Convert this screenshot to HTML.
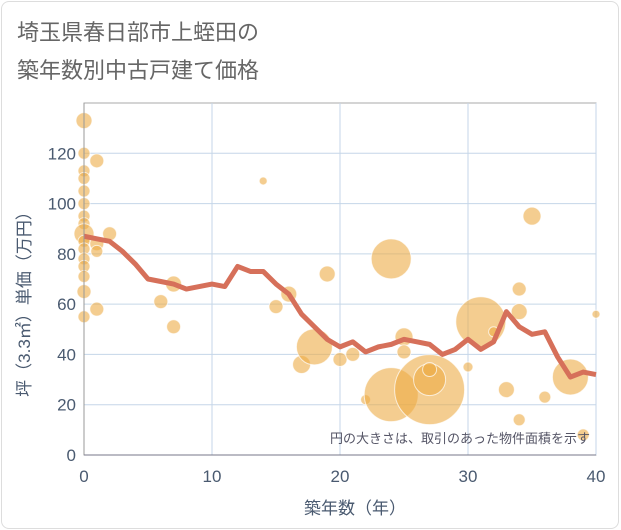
<!DOCTYPE html>
<html><head><meta charset="utf-8"><style>
body{margin:0;background:#fff;font-family:"Liberation Sans","Noto Sans CJK JP",sans-serif;}
#card{position:absolute;left:1px;top:1px;width:616px;height:526px;border:1px solid #ddd;border-radius:8px;}
</style></head><body>
<div id="card"></div>
<svg id="chart" width="621" height="530" style="position:absolute;left:0;top:0">
<text x="17" y="40" font-size="22" fill="#666">埼玉県春日部市上蛭田の</text>
<text x="17" y="78" font-size="22" fill="#666">築年数別中古戸建て価格</text>
<g id="grid"></g><g id="bubbles"></g><g id="line"></g><g id="axes"></g>
<text x="590" y="443" font-size="13" fill="#556" text-anchor="end">円の大きさは、取引のあった物件面積を示す</text>
<text x="355" y="514" font-size="17" fill="#4a5a70" text-anchor="middle">築年数（年）</text>
<text transform="translate(30,300) rotate(-90)" font-size="17" fill="#4a5a70" text-anchor="middle">坪（3.3㎡）単価（万円）</text>
</svg>
<script>
const xTicks=[0,10,20,30,40];
const yTicks=[0,20,40,60,80,100,120];
const lineYears=[0,1,2,3,4,5,6,7,8,9,10,11,12,13,14,15,16,17,18,19,20,21,22,23,24,25,26,27,28,29,30,31,32,33,34,35,36,37,38,39,40];
const linePrices=[87,86,85,81,76,70,69,68,66,67,68,67,75,73,73,68,64,56,51,46,43,45,41,43,44,46,45,44,40,42,46,42,45,57,51,48,49,39,31,33,32];
const bubbleYears=[0,0,1,0,0,0,0,0,0,0,0,0,0,0,0,0,0,1,1,2,1,6,7,7,14,15,16,17,18,19,20,21,22,24,24,25,25,27,27,27,30,31,32,33,34,34,34,35,36,38,39,40];
const bubblePrices=[133,120,117,113,110,105,100,95,92,88,85,82,78,75,71,65,55,84,81,88,58,61,68,51,109,59,64,36,43,72,38,40,22,78,24,47,41,26,30,34,35,53,49,26,66,57,14,95,23,31,8,56];
const bubbleSizes=[8,6,7,6,6,6,6,6,6,10,6,6,6,6,6,7,6,7,6,7,7,7,8,7,4,7,8,9,18,8,7,7,5,20,27,9,7,35,16,7,5,25,5,8,7,8,6,9,6,18,6,4];
const L=84,R=596,T=103,B=455,XMAX=40,YMAX=140;
const xs=v=>L+(v/XMAX)*(R-L), ys=v=>B-(v/YMAX)*(B-T);
const NS="http://www.w3.org/2000/svg";
function mk(t,a,p){const e=document.createElementNS(NS,t);for(const k in a)e.setAttribute(k,a[k]);p.appendChild(e);return e;}
const grid=document.getElementById('grid'),axes=document.getElementById('axes');
mk('rect',{x:L,y:T,width:R-L,height:B-T,fill:'none',stroke:'#aaa'},grid);
xTicks.forEach(t=>{
 const g=mk('line',{x1:xs(t),x2:xs(t),y1:T,y2:B,stroke:'#c5d6e8'},grid);
 
 
 const tx=mk('text',{x:xs(t),y:482,'font-size':17,fill:'#4a5a70','text-anchor':'middle'},axes);tx.textContent=t;
 
 
});
yTicks.forEach(t=>{
 const g=mk('line',{x1:L,x2:R,y1:ys(t),y2:ys(t),stroke:'#c5d6e8'},grid);
 
 
 const tx=mk('text',{x:76,y:ys(t)+6,'font-size':17,fill:'#4a5a70','text-anchor':'end'},axes);tx.textContent=t;
 
 
});
mk('line',{x1:L,x2:L,y1:T,y2:B,stroke:'#999'},axes);
mk('line',{x1:L,x2:R,y1:B,y2:B,stroke:'#778'},axes);
const bg=document.getElementById('bubbles');
bubbleYears.forEach((v,i)=>{
 const c=mk('circle',{cx:xs(v),cy:ys(bubblePrices[i]),r:bubbleSizes[i],fill:'rgba(236,172,70,0.6)',stroke:'rgba(255,255,255,0.7)','stroke-width':1},bg);
 
 
});
const pts=lineYears.map((v,i)=>xs(v)+','+ys(linePrices[i])).join(' ');
const pl=mk('polyline',{points:pts,fill:'none',stroke:'#d6705a','stroke-width':5,'stroke-linejoin':'round'},document.getElementById('line'));


</script>
</body></html>
